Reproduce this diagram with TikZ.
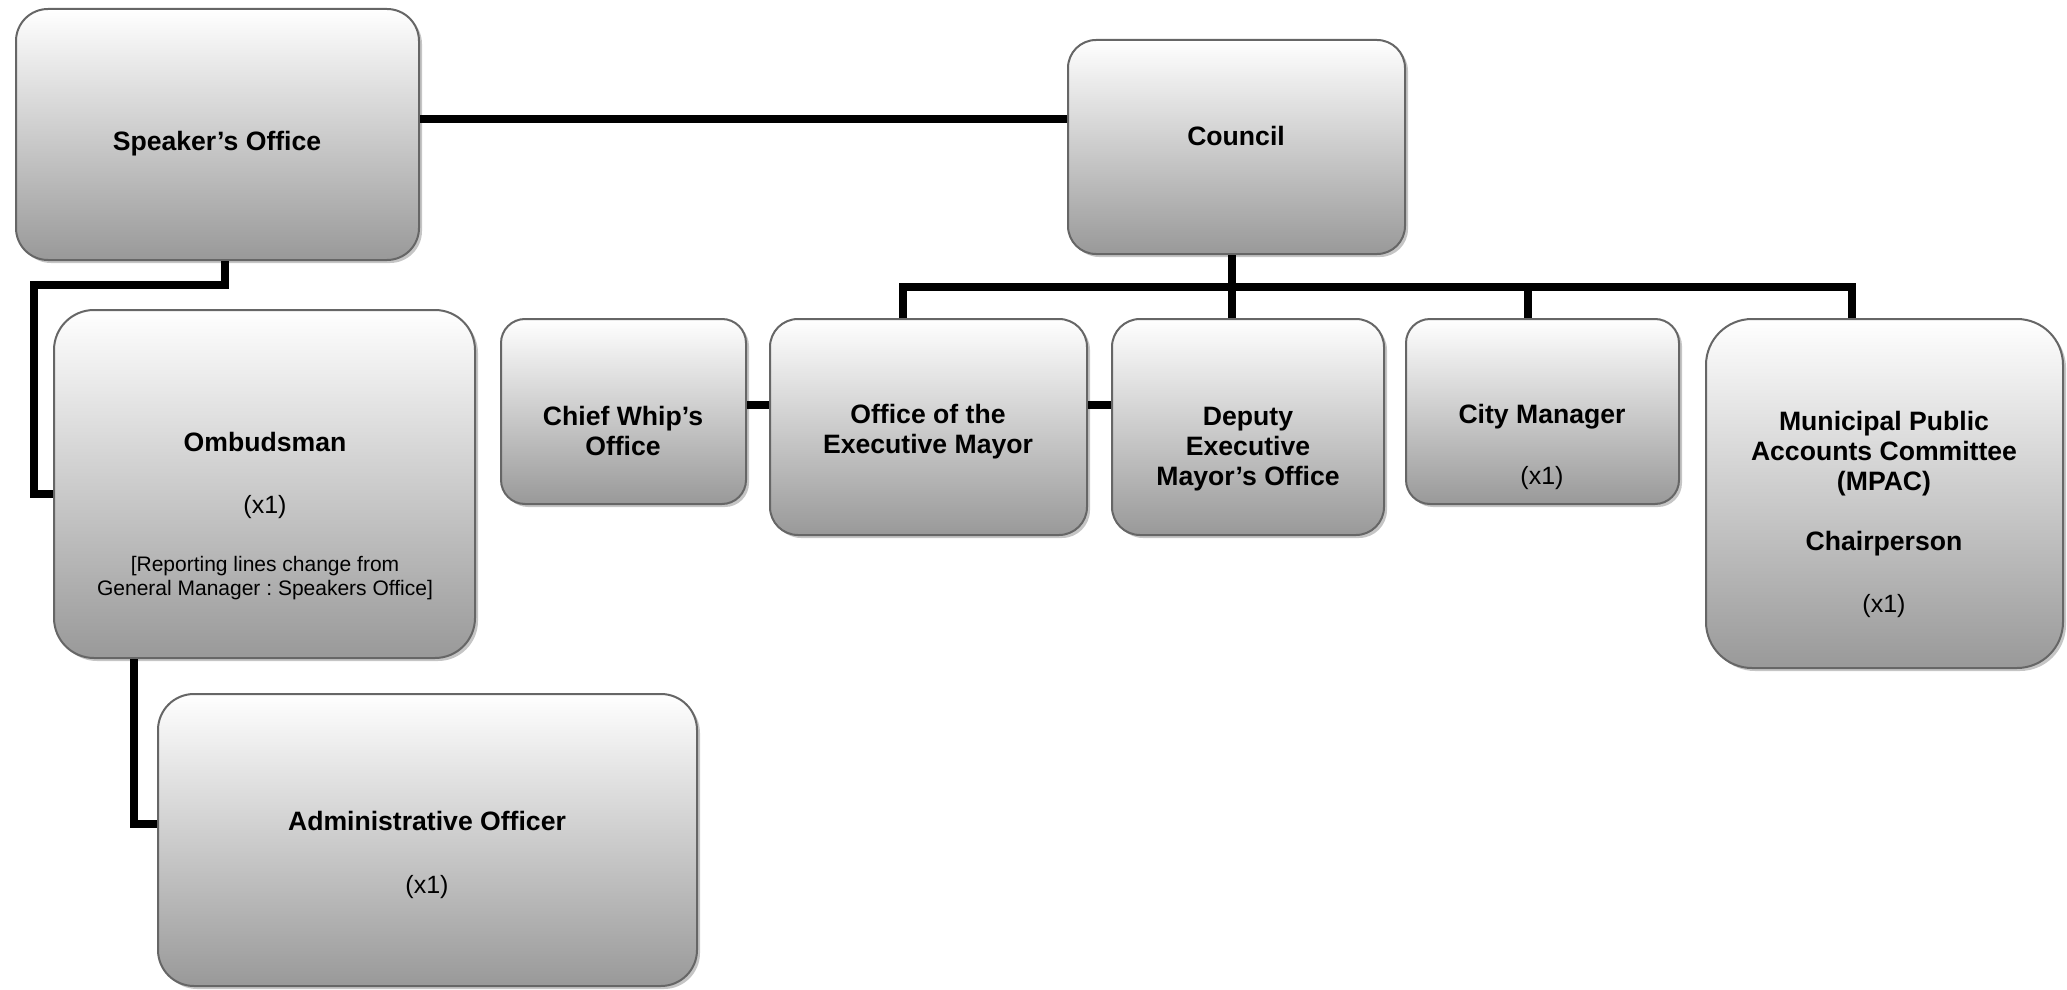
\documentclass[tikz,border=0pt]{standalone}
\usepackage{fontspec}
\setmainfont{Liberation Sans}
\usetikzlibrary{calc,shadows}
\frenchspacing

\begin{document}
\begin{tikzpicture}[x=0.5pt,y=-0.5pt,
  unit/.style={draw=black!60, line width=1pt, rounded corners=#1, inner sep=0pt,
    top color=white, bottom color=black!40,
    drop shadow={shadow xshift=1.5pt, shadow yshift=-1.5pt, fill=black!45, opacity=.5}},
  unit/.default=14pt,
  lbl/.style={align=center, font=\fontsize{13.3}{15}\selectfont\bfseries},
  link/.style={line width=4pt}]
\useasboundingbox (0,0) rectangle (2067,990);

% boxes
\node[unit=16pt, minimum width=201.5pt, minimum height=125.5pt] (speaker)   at (217.5,134.5) {};
\node[unit=14pt, minimum width=168.5pt, minimum height=107pt]   (council)   at (1236.5,147)  {};
\node[unit=20pt, minimum width=210.5pt, minimum height=174pt]   (ombudsman) at (264.5,484)   {};
\node[unit=18pt, minimum width=269.5pt, minimum height=146pt]   (admin)     at (427.5,840)   {};
\node[unit=12pt, minimum width=122.5pt, minimum height=92.5pt]  (chief)     at (623.5,411.5) {};
\node[unit=14pt, minimum width=158.5pt, minimum height=108pt]   (mayor)     at (928.5,427)   {};
\node[unit=14pt, minimum width=136pt,   minimum height=108pt]   (deputy)    at (1248,427)    {};
\node[unit=12pt, minimum width=136.5pt, minimum height=92.5pt]  (city)      at (1542.5,411.5) {};
\node[unit=23pt, minimum width=178.5pt, minimum height=174.5pt] (mpac)      at (1884.5,493.5) {};

% texts
\node[lbl] (speakerlbl) at (217,144) {Speaker’s Office};
\node[lbl] (councillbl) at (1236,136) {Council};
\node[lbl] (ombudsmanlbl) at (265,516) {Ombudsman\\[16pt]
  {\mdseries\fontsize{12.5}{15}\selectfont (x1)}\\[14pt]
  {\mdseries\fontsize{10.5}{12}\selectfont [Reporting lines change from}\\[-3pt]
  {\mdseries\fontsize{10.5}{12}\selectfont General Manager : Speakers Office]}};
\node[lbl] (adminlbl) at (427,855) {Administrative Officer\\[16.5pt]
  {\mdseries\fontsize{12.5}{15}\selectfont (x1)}};
\node[lbl] (chieflbl) at (623,431) {Chief Whip’s\\Office};
\node[lbl] (mayorlbl) at (928,432) {Office of the\\Executive Mayor};
\node[lbl] (deputylbl) at (1248,449) {Deputy\\Executive\\Mayor’s Office};
\node[lbl] (citylbl) at (1542,447) {City Manager\\[15.5pt]
  {\mdseries\fontsize{12.5}{15}\selectfont (x1)}};
\node[lbl] (mpaclbl) at (1884,514) {Municipal Public\\Accounts Committee\\(MPAC)\\[15pt]
  Chairperson\\[16pt]{\mdseries\fontsize{12.5}{15}\selectfont (x1)}};

% reporting lines
\draw[link] (speaker.east |- 0,119) -- (council.west |- 0,119);
\draw[link] ($(speaker.south)+(7.5,0)$) |- (34,285) |- ($(ombudsman.west)+(0,10)$);
\draw[link] (ombudsman.south -| 134,0) |- (admin.west |- 0,824);
\draw[link] ($(council.south)+(-5,0)$) -- ($(council.south |- deputy.north)+(-5,0)$);
\draw[link] (903,0 |- mayor.north) -- (903,287) -- (1852,287) -- (1852,0 |- mpac.north);
\draw[link] (1528,287) -- (1528,0 |- city.north);
\draw[link] (chief.east |- 0,405) -- (mayor.west |- 0,405);
\draw[link] (mayor.east |- 0,405) -- (deputy.west |- 0,405);
\end{tikzpicture}
\end{document}
